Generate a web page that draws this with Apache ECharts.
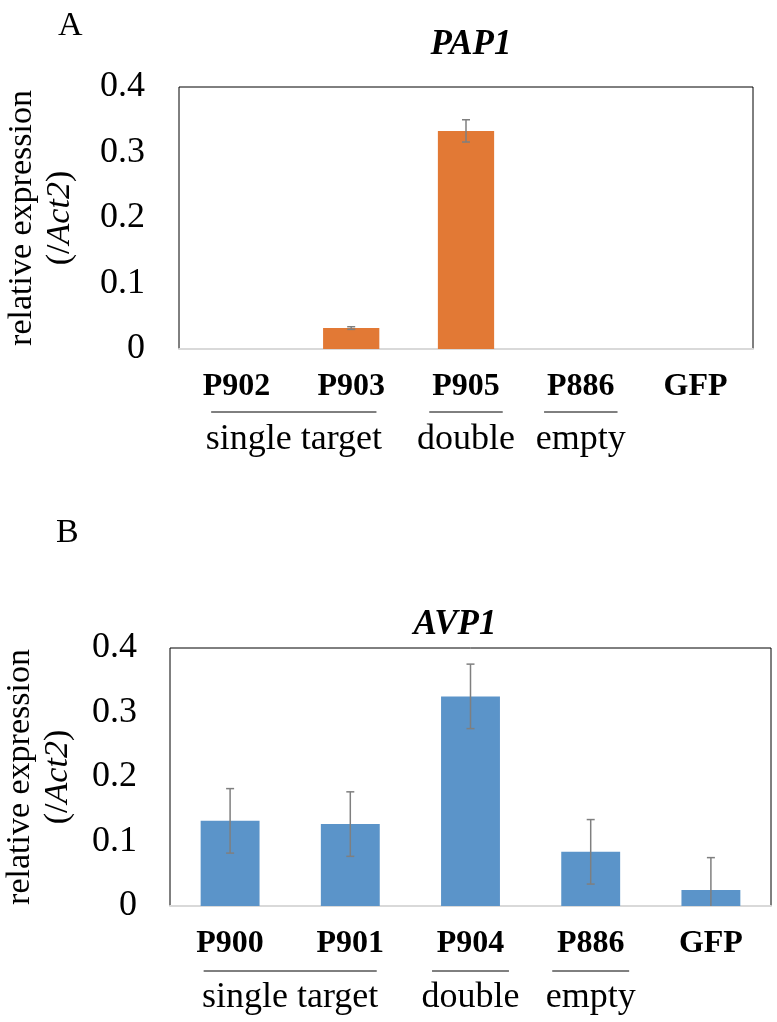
<!DOCTYPE html>
<html>
<head>
<meta charset="utf-8">
<script src="https://cdn.jsdelivr.net/npm/echarts@6/dist/echarts.min.js"></script>
<style>
  html, body { margin: 0; padding: 0; background: #fff; }
  #main { width: 777px; height: 1022px; }
</style>
</head>
<body>
<div id="main"></div>
<script>
// panel A: PAP1
const categoriesA = ['P902', 'P903', 'P905', 'P886', 'GFP'];
const valuesA = [0, 0.032, 0.333, 0, 0];
const errorsA = [0, 0.002, 0.017, 0, 0];

// panel B: AVP1
const categoriesB = ['P900', 'P901', 'P904', 'P886', 'GFP'];
const valuesB = [0.132, 0.127, 0.325, 0.084, 0.025];
const errorsB = [0.05, 0.05, 0.05, 0.05, 0.05];

// brackets under the category labels (category index range)
const groupNames = ['single target', 'double', 'empty'];
const groupFrom = [0, 2, 3];
const groupTo = [1, 2, 3];

const yMin = 0;
const yMax = 0.4;
const yStep = 0.1;

const serif = 'Liberation Serif';

var chartDom = document.getElementById('main');
var myChart = echarts.init(chartDom);
var option;

function errorData(values, errors) {
  return values.map(function (v, i) {
    return [i, v - errors[i], v + errors[i], errors[i]];
  });
}

function renderError(params, api) {
  if (api.value(3) === 0) return null;
  const x = api.value(0);
  let lo = api.value(1);
  const hi = api.value(2);
  const clipped = lo < yMin;
  if (clipped) lo = yMin;
  const pHi = api.coord([x, hi]);
  const pLo = api.coord([x, lo]);
  const cap = 4;
  const st = { stroke: '#7f7f7f', lineWidth: 1.5 };
  const children = [
    { type: 'line', shape: { x1: pHi[0], y1: pHi[1], x2: pLo[0], y2: pLo[1] }, style: st },
    { type: 'line', shape: { x1: pHi[0] - cap, y1: pHi[1], x2: pHi[0] + cap, y2: pHi[1] }, style: st }
  ];
  if (!clipped) {
    children.push({ type: 'line', shape: { x1: pLo[0] - cap, y1: pLo[1], x2: pLo[0] + cap, y2: pLo[1] }, style: st });
  }
  return { type: 'group', children: children };
}

function renderGroup(lineOffset, textOffset) {
  return function (params, api) {
    const from = api.value(0);
    const to = api.value(1);
    const w = api.size([1, 0])[0];
    const p0 = api.coord([from, 0]);
    const p1 = api.coord([to, 0]);
    const cx = (p0[0] + p1[0]) / 2;
    const half = (to - from) * 0.4 * w + 0.32 * w;
    return {
      type: 'group',
      children: [
        { type: 'line', shape: { x1: cx - half, y1: p0[1] + lineOffset, x2: cx + half, y2: p0[1] + lineOffset },
          style: { stroke: '#000', lineWidth: 1 } },
        { type: 'text', style: { text: groupNames[params.dataIndex], x: cx, y: p0[1] + textOffset,
          align: 'center', verticalAlign: 'middle', font: '36px "Liberation Serif", serif', fill: '#000' } }
      ]
    };
  };
}

const groupData = groupNames.map(function (n, i) { return [groupFrom[i], groupTo[i]]; });

function xAxisFor(idx, cats) {
  return {
    type: 'category',
    gridIndex: idx,
    data: cats,
    axisLine: { lineStyle: { color: '#d9d9d9', width: 2 } },
    axisTick: { show: false },
    axisLabel: { color: '#000', fontFamily: serif, fontWeight: 'bold', fontSize: 32, margin: 22 }
  };
}

function yAxisFor(idx, gap, margin) {
  return {
    type: 'value',
    gridIndex: idx,
    min: yMin,
    max: yMax,
    interval: yStep,
    name: 'relative expression\n(/{i|Act2})',
    nameLocation: 'middle',
    nameRotate: 90,
    nameGap: gap,
    nameTextStyle: {
      color: '#000', fontFamily: serif, fontSize: 34, lineHeight: 38,
      rich: { i: { fontStyle: 'italic', fontFamily: serif, fontSize: 34, lineHeight: 38, color: '#000' } }
    },
    axisLine: { show: false },
    axisTick: { show: false },
    splitLine: { show: false },
    axisLabel: { color: '#000', fontFamily: serif, fontSize: 36, margin: margin }
  };
}

option = {
  animation: false,
  backgroundColor: '#fff',
  textStyle: { fontFamily: serif },
  title: [
    { text: 'A', left: 53, top: 4, textStyle: { fontFamily: serif, fontSize: 34, fontWeight: 'normal', color: '#000' } },
    { text: 'PAP1', left: 466, top: 22, textAlign: 'center',
      textStyle: { fontFamily: serif, fontSize: 35, fontWeight: 'bold', fontStyle: 'italic', color: '#000' } },
    { text: 'B', left: 51, top: 511, textStyle: { fontFamily: serif, fontSize: 34, fontWeight: 'normal', color: '#000' } },
    { text: 'AVP1', left: 450, top: 602, textAlign: 'center',
      textStyle: { fontFamily: serif, fontSize: 35, fontWeight: 'bold', fontStyle: 'italic', color: '#000' } }
  ],
  grid: [
    { left: 179, top: 87, width: 574, height: 262, show: true, borderColor: '#000', borderWidth: 1,
      containLabel: false, outerBoundsMode: 'none' },
    { left: 170, top: 648, width: 601, height: 258, show: true, borderColor: '#000', borderWidth: 1,
      containLabel: false, outerBoundsMode: 'none' }
  ],
  xAxis: [xAxisFor(0, categoriesA), xAxisFor(1, categoriesB)],
  yAxis: [yAxisFor(0, 100, 34), yAxisFor(1, 93, 33)],
  series: [
    {
      type: 'bar', xAxisIndex: 0, yAxisIndex: 0, data: valuesA,
      barWidth: '49%', itemStyle: { color: '#E27935' }
    },
    {
      type: 'custom', xAxisIndex: 0, yAxisIndex: 0, renderItem: renderError,
      data: errorData(valuesA, errorsA), encode: { x: 0, y: [1, 2] }, z: 5
    },
    {
      type: 'custom', xAxisIndex: 0, yAxisIndex: 0, renderItem: renderGroup(63, 91),
      data: groupData, encode: { x: [0, 1] }, silent: true
    },
    {
      type: 'bar', xAxisIndex: 1, yAxisIndex: 1, data: valuesB,
      barWidth: '49%', itemStyle: { color: '#5B94C9' }
    },
    {
      type: 'custom', xAxisIndex: 1, yAxisIndex: 1, renderItem: renderError,
      data: errorData(valuesB, errorsB), encode: { x: 0, y: [1, 2] }, z: 5
    },
    {
      type: 'custom', xAxisIndex: 1, yAxisIndex: 1, renderItem: renderGroup(65, 92),
      data: groupData, encode: { x: [0, 1] }, silent: true
    }
  ]
};

option && myChart.setOption(option);
</script>
</body>
</html>
